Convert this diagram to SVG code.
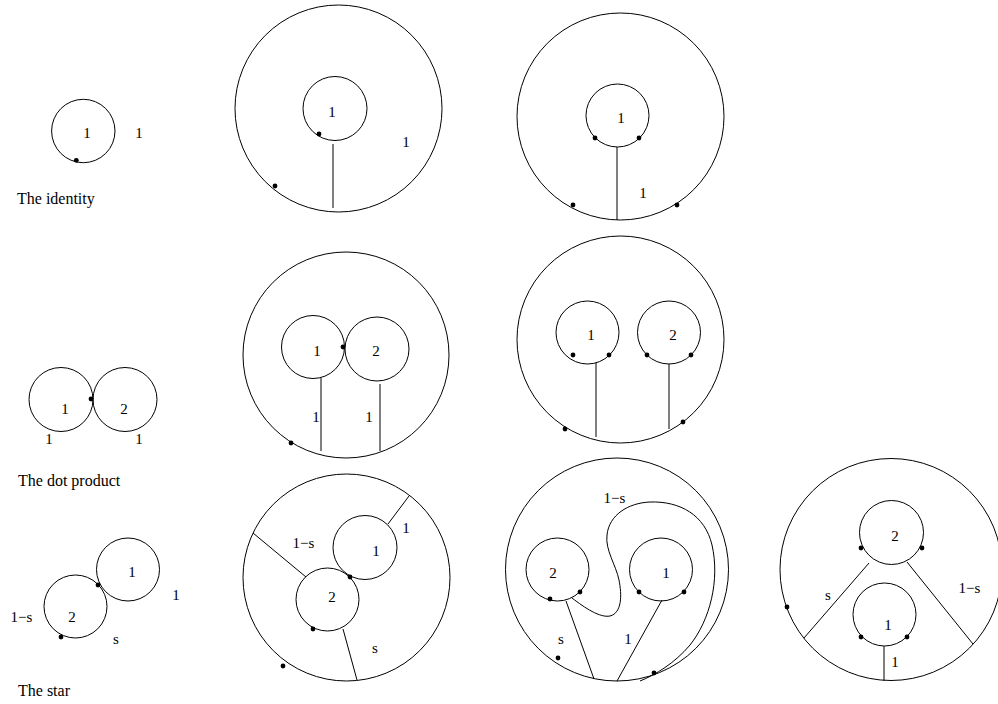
<svg xmlns="http://www.w3.org/2000/svg" width="998" height="704" viewBox="0 0 998 704">
<style>
.c{fill:none;stroke:#000;stroke-width:1}
.l{fill:none;stroke:#000;stroke-width:1}
.d{fill:#000;stroke:none}
text{font-family:"Liberation Serif","Times New Roman",serif;fill:#000}
.t{font-size:15px;text-anchor:middle}
.cap{font-size:16px}
</style>
<rect width="998" height="704" fill="#fff"/>

<g id="identity-small">
<circle class="c" cx="83.3" cy="131" r="31.7"/>
<circle class="d" cx="76.3" cy="160.3" r="2.4"/>
<text class="t" x="87" y="138">1</text>
<text class="t" x="139" y="138">1</text>
<text class="cap" x="17" y="204">The identity</text>
</g>

<g id="identity-a">
<circle class="c" cx="338.5" cy="108.5" r="103.5"/>
<circle class="c" cx="335" cy="108.5" r="32"/>
<circle class="d" cx="319" cy="134" r="2.4"/>
<circle class="d" cx="275" cy="186" r="2.4"/>
<text class="t" x="332" y="117">1</text>
<text class="t" x="406" y="146.5">1</text>
</g>

<g id="identity-b">
<circle class="c" cx="620.5" cy="116.5" r="103.5"/>
<circle class="c" cx="617.5" cy="115.5" r="31.5"/>
<circle class="d" cx="595" cy="138" r="2.4"/>
<circle class="d" cx="639" cy="138" r="2.4"/>
<circle class="d" cx="573" cy="205" r="2.4"/>
<circle class="d" cx="677" cy="205" r="2.4"/>
<text class="t" x="621" y="123">1</text>
<text class="t" x="643" y="198">1</text>
</g>

<g id="dot-small">
<circle class="c" cx="61" cy="399.5" r="32"/>
<circle class="c" cx="125" cy="399.5" r="32"/>
<circle class="d" cx="91" cy="399" r="2.4"/>
<text class="t" x="65" y="414">1</text>
<text class="t" x="124" y="414">2</text>
<text class="t" x="49" y="444">1</text>
<text class="t" x="139" y="444">1</text>
<text class="cap" x="18" y="486">The dot product</text>
</g>

<g id="dot-a">
<circle class="c" cx="346" cy="355" r="103"/>
<circle class="c" cx="313" cy="347" r="31.5"/>
<circle class="c" cx="377" cy="349" r="32"/>
<circle class="d" cx="343" cy="347" r="2.4"/>
<circle class="d" cx="291" cy="443" r="2.4"/>
<text class="t" x="317" y="356">1</text>
<text class="t" x="376" y="356">2</text>
<text class="t" x="316" y="421.7">1</text>
<text class="t" x="369" y="421.7">1</text>
</g>

<g id="dot-b">
<circle class="c" cx="620.5" cy="339.5" r="103.5"/>
<circle class="c" cx="587.5" cy="332.5" r="31.5"/>
<circle class="c" cx="669" cy="332.5" r="31.5"/>
<circle class="d" cx="573" cy="355" r="2.4"/>
<circle class="d" cx="609" cy="355" r="2.4"/>
<circle class="d" cx="647" cy="355" r="2.4"/>
<circle class="d" cx="691" cy="355" r="2.4"/>
<circle class="d" cx="565" cy="429" r="2.4"/>
<circle class="d" cx="683" cy="422" r="2.4"/>
<text class="t" x="591" y="340">1</text>
<text class="t" x="673" y="340">2</text>
</g>

<g id="star-small">
<circle class="c" cx="128" cy="569.5" r="31.5"/>
<circle class="c" cx="75.5" cy="606.5" r="31.5"/>
<circle class="d" cx="98" cy="585" r="2.4"/>
<circle class="d" cx="61" cy="637" r="2.4"/>
<text class="t" x="132" y="577">1</text>
<text class="t" x="72" y="621.7">2</text>
<text class="t" x="176" y="600">1</text>
<text class="t" x="21.5" y="621.7">1−s</text>
<text class="t" x="116" y="644">s</text>
<text class="cap" x="18" y="695.5">The star</text>
</g>

<g id="star-a">
<circle class="c" cx="346.5" cy="577.5" r="103.5"/>
<circle class="c" cx="365" cy="547.5" r="32"/>
<circle class="c" cx="327.5" cy="599.5" r="31.5"/>
<circle class="d" cx="350" cy="577" r="2.4"/>
<circle class="d" cx="313" cy="629" r="2.4"/>
<circle class="d" cx="283" cy="666" r="2.4"/>
<text class="t" x="406" y="533">1</text>
<text class="t" x="303.5" y="548">1−s</text>
<text class="t" x="376" y="556">1</text>
<text class="t" x="332" y="601.7">2</text>
<text class="t" x="375" y="652.5">s</text>
</g>

<g id="star-b">
<circle class="c" cx="617" cy="569.5" r="111.5"/>
<circle class="c" cx="557.5" cy="569.5" r="31.5"/>
<circle class="c" cx="661" cy="569.5" r="31.5"/>
<circle class="d" cx="550" cy="599" r="2.4"/>
<circle class="d" cx="580" cy="592" r="2.4"/>
<circle class="d" cx="639" cy="592" r="2.4"/>
<circle class="d" cx="684" cy="592" r="2.4"/>
<circle class="d" cx="558" cy="658" r="2.4"/>
<circle class="d" cx="654" cy="673" r="2.4"/>
<text class="t" x="614.5" y="503">1−s</text>
<text class="t" x="553" y="577.5">2</text>
<text class="t" x="666" y="577.5">1</text>
<text class="t" x="561" y="644">s</text>
<text class="t" x="628" y="644">1</text>
</g>

<g id="star-c">
<circle class="c" cx="891" cy="569.5" r="111"/>
<circle class="c" cx="891.5" cy="532.5" r="32"/>
<circle class="c" cx="884.5" cy="614.5" r="31.5"/>
<circle class="d" cx="861" cy="548" r="2.4"/>
<circle class="d" cx="922" cy="548" r="2.4"/>
<circle class="d" cx="861" cy="637" r="2.4"/>
<circle class="d" cx="907" cy="637" r="2.4"/>
<circle class="d" cx="787" cy="607" r="2.4"/>
<text class="t" x="895" y="540.5">2</text>
<text class="t" x="888" y="630">1</text>
<text class="t" x="828" y="600">s</text>
<text class="t" x="969.5" y="593">1−s</text>
<text class="t" x="895" y="666.5">1</text>
</g>

<g id="connectors">
<line class="l" x1="333" y1="144" x2="333" y2="208"/>
<line class="l" x1="617" y1="147" x2="617" y2="220"/>
<line class="l" x1="321" y1="378" x2="321" y2="451"/>
<line class="l" x1="380" y1="384" x2="380" y2="451"/>
<line class="l" x1="596" y1="363" x2="596" y2="437"/>
<line class="l" x1="669" y1="364" x2="669" y2="429"/>
<line class="l" x1="388" y1="524" x2="409" y2="496"/>
<line class="l" x1="253" y1="533" x2="306" y2="577"/>
<line class="l" x1="343" y1="629" x2="357" y2="680"/>
<line class="l" x1="566" y1="601" x2="594" y2="679"/>
<line class="l" x1="662" y1="600" x2="617" y2="681"/>
<path class="l" d="M572 598 C585 608,600 618,610 616 C622 613,622 595,619 580 C616 565,605 550,607 535 C609 515,628 503,650 502 C680 501,705 515,712 545 C720 580,710 620,690 645 C675 663,655 675,640 681"/>
<line class="l" x1="869" y1="563" x2="804" y2="638"/>
<line class="l" x1="907" y1="562" x2="973" y2="644"/>
<line class="l" x1="884" y1="646" x2="884" y2="681"/>
</g>
</svg>
